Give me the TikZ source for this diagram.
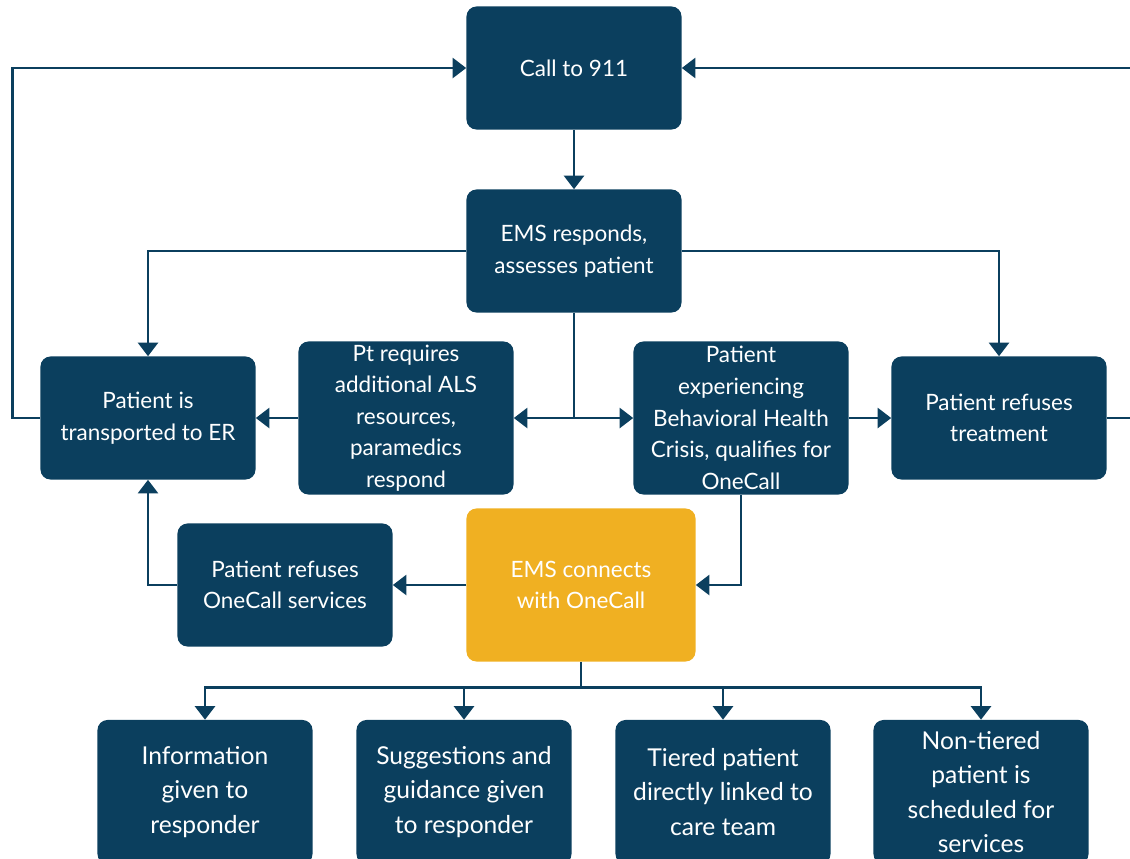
\documentclass[tikz,border=0pt]{standalone}
\usepackage{fontspec}
\setmainfont{Lato}
\usepackage{tikz}
\usetikzlibrary{arrows.meta,positioning,calc}
\definecolor{navy}{HTML}{0B3F5E}
\definecolor{gold}{HTML}{F0B022}
\tikzstyle{box}=[rectangle,rounded corners=0.25cm,fill=navy,text=white,align=center,
  minimum width=5.375cm,minimum height=3.075cm,inner sep=2pt,font=\fontsize{16}{22.5}\selectfont]
\tikzstyle{tall}=[box,minimum height=3.825cm]
\tikzstyle{hot}=[tall,fill=gold,minimum width=5.725cm]
\tikzstyle{leaf}=[box,minimum height=3.6cm,font=\fontsize{17.5}{24.5}\selectfont]
\tikzstyle{flow}=[draw=navy,line width=2pt,-{Triangle[length=0.34cm,width=0.5cm]}]
\tikzstyle{wire}=[draw=navy,line width=2pt]

\begin{document}
\begin{tikzpicture}[x=0.025cm,y=-0.025cm]
      \clip (0,0) rectangle (1130,858);
      \node[box] at (574,  68) (call)  {Call to 911};
      \node[box] at (574, 251) (ems)   {EMS responds,\\assesses patient};
      \node[box] at (148, 418) (er)    {Patient is\\transported to ER};
      \node[tall] at (406,418) (als)   {Pt requires\\additional ALS\\resources,\\paramedics\\respond};
      \node[tall] at (741,418) (bh)    {Patient\\experiencing\\Behavioral Health\\Crisis, qualifies for\\OneCall};
      \node[box] at (999, 418) (reft)  {Patient refuses\\treatment};
      \node[box] at (285, 585) (refoc) {Patient refuses\\OneCall services};
      \node[hot] at (581, 585) (oc)    {EMS connects\\with OneCall};
      \node[leaf] at (205,792) (info)  {Information\\given to\\responder};
      \node[leaf] at (464,792) (sugg)  {Suggestions and\\guidance given\\to responder};
      \node[leaf] at (723,792) (tier)  {Tiered patient\\directly linked to\\care team};
      \node[leaf] at (981,792) (ntier) {Non-tiered\\patient is\\scheduled for\\services};
      \coordinate (split) at ($(oc.south)+(0,26)$);
      \draw[flow] (call) -- (ems);
      \draw[flow] (er.west) -- ++(-28,0) |- (call.west);
      \draw[flow] (reft.east) -- ++(30,0) |- (call.east);
      \draw[flow] (ems.west) -| (er.north);
      \draw[flow] (ems.east) -| (reft.north);
      \draw[wire] (ems.south) -- (ems.south |- als.east);
      \draw[flow] (ems.south |- als.east) -- (als.east);
      \draw[flow] (ems.south |- bh.west) -- (bh.west);
      \draw[flow] (als) -- (er);
      \draw[flow] (bh) -- (reft);
      \draw[flow] (bh.south) |- (oc.east);
      \draw[flow] (oc) -- (refoc);
      \draw[flow] (refoc.west) -| (er.south);
      \draw[wire] (oc.south) -- (split);
      \draw[flow] (split) -| (info.north);
      \draw[flow] (split) -| (sugg.north);
      \draw[flow] (split) -| (tier.north);
      \draw[flow] (split) -| (ntier.north);
\end{tikzpicture}
\end{document}
